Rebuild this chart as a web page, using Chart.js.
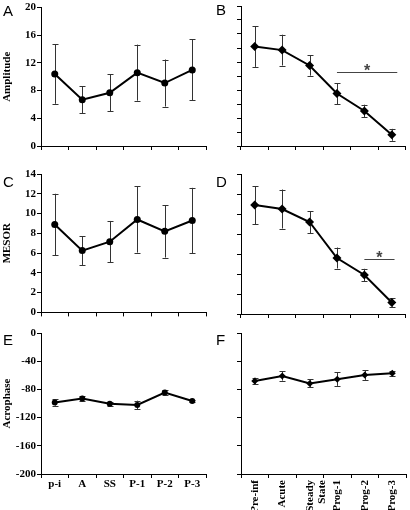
<!DOCTYPE html>
<html>
<head>
<meta charset="utf-8">
<script src="https://cdn.jsdelivr.net/npm/chart.js@4/dist/chart.umd.min.js"></script>
<style>
  html, body { margin: 0; padding: 0; background: #fff; }
  #wrap { position: relative; width: 410px; height: 510px; overflow: hidden; background: #fff; }
  #wrap canvas { position: absolute; }
  .letter { position: absolute; font-family: "Liberation Sans", Arial, sans-serif; font-size: 15px; line-height: 15px; color: #000; }
</style>
</head>
<body>
<div id="wrap">
  <canvas id="cA" width="210" height="160" style="left:0;top:0"></canvas>
  <canvas id="cB" width="210" height="160" style="left:200px;top:0"></canvas>
  <canvas id="cC" width="210" height="160" style="left:0;top:160px"></canvas>
  <canvas id="cD" width="210" height="160" style="left:200px;top:160px"></canvas>
  <canvas id="cE" width="210" height="190" style="left:0;top:320px"></canvas>
  <canvas id="cF" width="210" height="190" style="left:200px;top:320px"></canvas>
  <div class="letter" style="left:3px;top:3px">A</div>
  <div class="letter" style="left:216px;top:2px">B</div>
  <div class="letter" style="left:3px;top:174px">C</div>
  <div class="letter" style="left:216px;top:174px">D</div>
  <div class="letter" style="left:3px;top:332px">E</div>
  <div class="letter" style="left:216px;top:332px">F</div>
</div>
<script>
// stage labels
const stagesShort = ['p-i', 'A', 'SS', 'P-1', 'P-2', 'P-3'];
const stagesLong = ['Pre-inf', 'Acute', ['Steady', 'State'], 'Prog-1', 'Prog-2', 'Prog-3'];

// amplitude
const ampA = [10.4, 6.7, 7.7, 10.6, 9.1, 11.0];
const ampAErr = [4.3, 1.95, 2.7, 4.05, 3.4, 4.4];
const ampB = [14.2, 13.7, 11.5, 7.5, 5.0, 1.6];
const ampBErr = [2.9, 2.2, 1.45, 1.5, 0.9, 0.85];

// MESOR
const mesorC = [8.9, 6.25, 7.15, 9.4, 8.2, 9.3];
const mesorCErr = [3.1, 1.45, 2.1, 3.35, 2.65, 3.3];
const mesorD = [10.9, 10.5, 9.2, 5.6, 3.9, 1.15];
const mesorDErr = [1.9, 1.95, 1.1, 1.05, 0.62, 0.43];

// acrophase
const acroE = [-98.5, -93, -100.5, -102, -84.5, -96.5];
const acroEErr = [4.5, 3.8, 3, 6, 3.8, 2];
const acroF = [-68, -61, -71.5, -65.5, -59.5, -57];
const acroFErr = [4.5, 6.5, 5.8, 9.5, 7, 3.5];

// significance bars: [from index, to index, y value]
const sigB = [3.0, 5.2, 10.6];
const sigD = [4.0, 5.1, 5.5];

const serif = 'Liberation Serif, Times New Roman, serif';

const errorBars = {
  id: 'errorBars',
  beforeDatasetsDraw(chart, args, opts) {
    const { ctx, scales: { x, y } } = chart;
    const means = chart.data.datasets[0].data;
    ctx.save();
    ctx.strokeStyle = '#333';
    ctx.lineWidth = 1;
    means.forEach((m, i) => {
      const e = opts.errs[i];
      const px = Math.round(x.getPixelForValue(i)) + 0.5;
      const top = y.getPixelForValue(m + e);
      const bot = y.getPixelForValue(m - e);
      ctx.beginPath();
      ctx.moveTo(px, top); ctx.lineTo(px, bot);
      ctx.moveTo(px - 3, Math.round(top) + 0.5); ctx.lineTo(px + 3, Math.round(top) + 0.5);
      ctx.moveTo(px - 3, Math.round(bot) + 0.5); ctx.lineTo(px + 3, Math.round(bot) + 0.5);
      ctx.stroke();
    });
    if (opts.sig) {
      const [a, b, v] = opts.sig;
      const x1 = x.getPixelForValue(a), x2 = x.getPixelForValue(b);
      const py = Math.round(y.getPixelForValue(v)) + 0.5;
      ctx.strokeStyle = '#444';
      ctx.beginPath();
      ctx.moveTo(x1, py); ctx.lineTo(x2, py);
      ctx.stroke();
      ctx.fillStyle = '#444';
      ctx.font = 'bold 16px Liberation Sans, Arial, sans-serif';
      ctx.textAlign = 'center';
      ctx.textBaseline = 'alphabetic';
      ctx.fillText('*', (x1 + x2) / 2, py + 3);
    }
    ctx.restore();
  }
};

function panel(id, labels, means, errs, cfg) {
  const canvas = document.getElementById(id);
  const H = canvas.height;
  return new Chart(canvas, {
    type: 'line',
    data: {
      labels: labels,
      datasets: [{
        data: means,
        borderColor: '#000',
        borderWidth: 2,
        backgroundColor: '#000',
        pointStyle: cfg.pointStyle,
        pointRadius: cfg.radius,
        pointBorderWidth: 0,
        tension: 0
      }]
    },
    options: {
      responsive: false,
      animation: false,
      layout: { padding: { left: 0, right: 1, top: cfg.top, bottom: 0 } },
      plugins: {
        legend: { display: false },
        tooltip: { enabled: false },
        errorBars: { errs: errs, sig: cfg.sig }
      },
      scales: {
        x: {
          type: 'category',
          offset: true,
          afterFit: s => { s.height = H - cfg.bottom; },
          grid: { offset: true, drawOnChartArea: false, tickLength: 4, color: '#000', tickColor: '#000' },
          border: { color: '#000', width: 1 },
          ticks: {
            display: cfg.xLabels,
            autoSkip: false,
            minRotation: cfg.rotate ? 90 : 0,
            maxRotation: cfg.rotate ? 90 : 0,
            padding: cfg.rotate ? 2 : 0,
            color: '#000',
            font: { family: serif, size: 11, weight: 'bold', lineHeight: 1.15 }
          }
        },
        y: {
          min: cfg.min,
          max: cfg.max,
          afterFit: s => { s.width = 41; },
          grid: { drawOnChartArea: false, tickLength: 4, color: '#000', tickColor: '#000' },
          border: { color: '#000', width: 1 },
          title: {
            display: !!cfg.title,
            text: cfg.title || '',
            color: '#000',
            padding: { top: 1, bottom: 0 },
            font: { family: serif, size: 11, weight: 'bold' }
          },
          ticks: {
            display: cfg.yLabels,
            stepSize: cfg.step,
            padding: 1,
            color: '#000',
            font: { family: serif, size: 11, weight: 'bold' }
          }
        }
      }
    },
    plugins: [errorBars]
  });
}

panel('cA', stagesShort, ampA, ampAErr, {
  min: 0, max: 20, step: 4, yLabels: true, title: 'Amplitude',
  top: 6, bottom: 146, xLabels: false, pointStyle: 'circle', radius: 3.5
});
panel('cB', stagesLong, ampB, ampBErr, {
  min: 0, max: 20, step: 2, yLabels: false,
  top: 6, bottom: 146, xLabels: false, pointStyle: 'rectRot', radius: 4.5, sig: sigB
});
panel('cC', stagesShort, mesorC, mesorCErr, {
  min: 0, max: 14, step: 2, yLabels: true, title: 'MESOR',
  top: 14, bottom: 154, xLabels: false, pointStyle: 'circle', radius: 3.5
});
panel('cD', stagesLong, mesorD, mesorDErr, {
  min: 0, max: 14, step: 2, yLabels: false,
  top: 14, bottom: 154, xLabels: false, pointStyle: 'rectRot', radius: 4.5, sig: sigD
});
panel('cE', stagesShort, acroE, acroEErr, {
  min: -200, max: 0, step: 40, yLabels: true, title: 'Acrophase',
  top: 13, bottom: 154, xLabels: true, pointStyle: 'circle', radius: 3
});
panel('cF', stagesLong, acroF, acroFErr, {
  min: -200, max: 0, step: 40, yLabels: false,
  top: 13, bottom: 154, xLabels: true, rotate: true, pointStyle: 'rectRot', radius: 3.5
});
</script>
</body>
</html>
